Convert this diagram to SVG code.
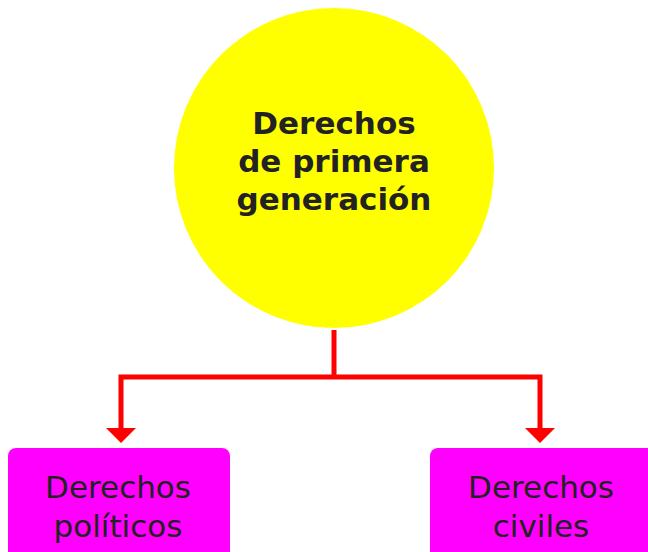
<svg xmlns="http://www.w3.org/2000/svg" width="648" height="552" viewBox="0 0 648 552">
<style>
.title{font-family:"DejaVu Sans",Verdana,sans-serif;font-weight:bold;font-size:31px;fill:#222;text-anchor:middle}
.lbl{font-family:"DejaVu Sans",Verdana,sans-serif;font-size:31px;fill:#222;text-anchor:middle}
.box{fill:#ff00ff}
.con{fill:none;stroke:#ff0000;stroke-width:5}
.head{fill:#ff0000}
</style>
<rect width="648" height="552" fill="#fff"/>
<g id="connectors">
<polyline class="con" points="334,330 334,377"/>
<polyline class="con" points="121,430 121,377 540,377 540,430"/>
<polygon class="head" points="106,428 136,428 121,443"/>
<polygon class="head" points="525,428 555,428 540,443"/>
</g>
<g id="node-main">
<circle cx="334" cy="168" r="160" fill="#ffff00"/>
<text class="title" x="334" y="134">Derechos</text>
<text class="title" x="334" y="172">de primera</text>
<text class="title" x="334" y="210">generación</text>
</g>
<g id="node-politicos">
<rect class="box" x="8" y="448" width="222" height="120" rx="8"/>
<text class="lbl" x="118" y="498">Derechos</text>
<text class="lbl" x="118" y="537">políticos</text>
</g>
<g id="node-civiles">
<rect class="box" x="430" y="448" width="230" height="120" rx="8"/>
<text class="lbl" x="541" y="498">Derechos</text>
<text class="lbl" x="541" y="537">civiles</text>
</g>
</svg>
